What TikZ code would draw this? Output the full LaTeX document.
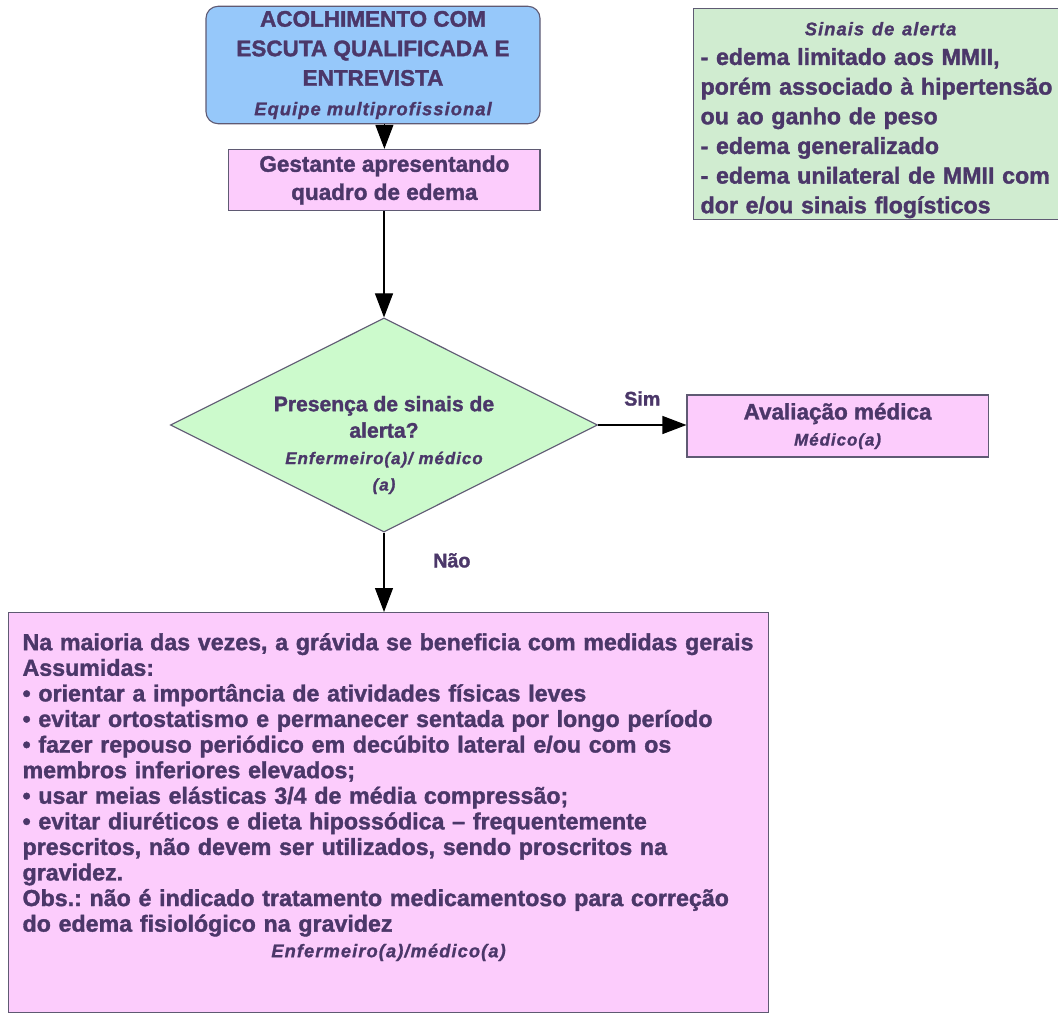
\documentclass[tikz,border=0pt]{standalone}
\usepackage{fontspec}
\setmainfont{Liberation Sans}[BoldFeatures={FakeBold=1.5}]
\newfontfamily\notefont{Liberation Sans}[LetterSpace=6, BoldItalicFeatures={FakeBold=1.2}]
\usetikzlibrary{shapes.geometric,arrows.meta,positioning}
\definecolor{ink}{RGB}{75,55,105}
\definecolor{edge}{RGB}{95,90,115}
\definecolor{topblue}{RGB}{150,200,250}
\definecolor{boxpink}{RGB}{252,204,252}
\definecolor{diamgreen}{RGB}{204,250,204}
\definecolor{alertgreen}{RGB}{208,236,208}
\newcommand{\note}[2][13]{{\notefont\fontsize{#1}{#1}\selectfont\bfseries\itshape #2}}
\frenchspacing

\tikzset{
  box/.style={draw=edge, line width=0.8pt, text=ink, align=center},
  arr/.style={-{Triangle[length=0.6cm,width=0.45cm]}, line width=0.8pt},
  lbl/.style={text=ink, font=\bfseries\fontsize{14}{16}\selectfont}
}

\begin{document}
\begin{tikzpicture}
\useasboundingbox (0,0) rectangle (26.45,-25.5);

% caixas
\node[box, rounded corners=0.3cm, fill=topblue, minimum width=8.35cm, minimum height=2.85cm,
      font=\bfseries\fontsize{16}{21}\selectfont] (acolhimento) at (9.325,-1.625)
      {ACOLHIMENTO COM\\ESCUTA QUALIFICADA E\\ENTREVISTA\\\note{Equipe multiprofissional}};

\node[box, fill=boxpink, minimum width=7.78cm, minimum height=1.53cm,
      font=\bfseries\fontsize{16}{20}\selectfont] (gestante) at (9.61,-4.5)
      {Gestante apresentando\\quadro de edema};

\node[box, diamond, aspect=2, inner sep=0pt, fill=diamgreen, minimum width=10.68cm, minimum height=5.35cm]
      (decisao) at (9.6,-10.625) {};
\node[text=ink, align=center, font=\bfseries\fontsize{15}{18.8}\selectfont] (pergunta)
      at ([yshift=-0.5cm]decisao.center)
      {Presença de sinais de\\alerta?\\\note[12]{Enfermeiro(a)/ médico}\\\note[12]{(a)}};

\node[box, fill=boxpink, minimum width=7.53cm, minimum height=1.55cm,
      font=\bfseries\fontsize{16}{18.5}\selectfont] (avaliacao) at (20.94,-10.65)
      {Avaliação médica\\\note[12]{Médico(a)}};

\node[box, fill=boxpink, anchor=north west, align=left, text width=18.3cm, inner xsep=0.35cm,
      minimum width=19cm, minimum height=10cm,
      font=\bfseries\fontsize{16.5}{18.2}\selectfont] (orientacoes) at (0.2,-15.3)
      {Na maioria das vezes, a grávida se beneficia com medidas gerais\\
       Assumidas:\\
       • orientar a importância de atividades físicas leves\\
       • evitar ortostatismo e permanecer sentada por longo período\\
       • fazer repouso periódico em decúbito lateral e/ou com os\\
       membros inferiores elevados;\\
       • usar meias elásticas 3/4 de média compressão;\\
       • evitar diuréticos e dieta hipossódica – frequentemente\\
       prescritos, não devem ser utilizados, sendo proscritos na\\
       gravidez.\\
       Obs.: não é indicado tratamento medicamentoso para correção\\
       do edema fisiológico na gravidez\\
       \makebox[\hsize]{\note{Enfermeiro(a)/médico(a)}}\par\vspace*{22pt}};

\node[box, fill=alertgreen, anchor=north west, align=left, text width=9cm, inner xsep=0.175cm, inner ysep=1pt,
      font=\bfseries\fontsize{16.5}{21.1}\selectfont] (alerta) at (17.325,-0.2)
      {\rule{0pt}{18pt}\makebox[\hsize]{\note{Sinais de alerta}}\\
       - edema limitado aos MMII,\\
       porém associado à hipertensão\\
       ou ao ganho de peso\\
       - edema generalizado\\
       - edema unilateral de MMII com\\
       dor e/ou sinais flogísticos};

% setas
\draw[arr] (acolhimento.south -| gestante.north) -- (gestante.north);
\draw[arr] (gestante.south -| decisao.north) -- (decisao.north);
\draw[arr] (decisao.east) -- node[lbl, above=0.35cm] (sim) {Sim} (decisao.east -| avaliacao.west);
\draw[arr] (decisao.south) -- node[lbl, pos=0.35, right=1.1cm] (nao) {Não} (decisao.south |- orientacoes.north);
\end{tikzpicture}
\end{document}
